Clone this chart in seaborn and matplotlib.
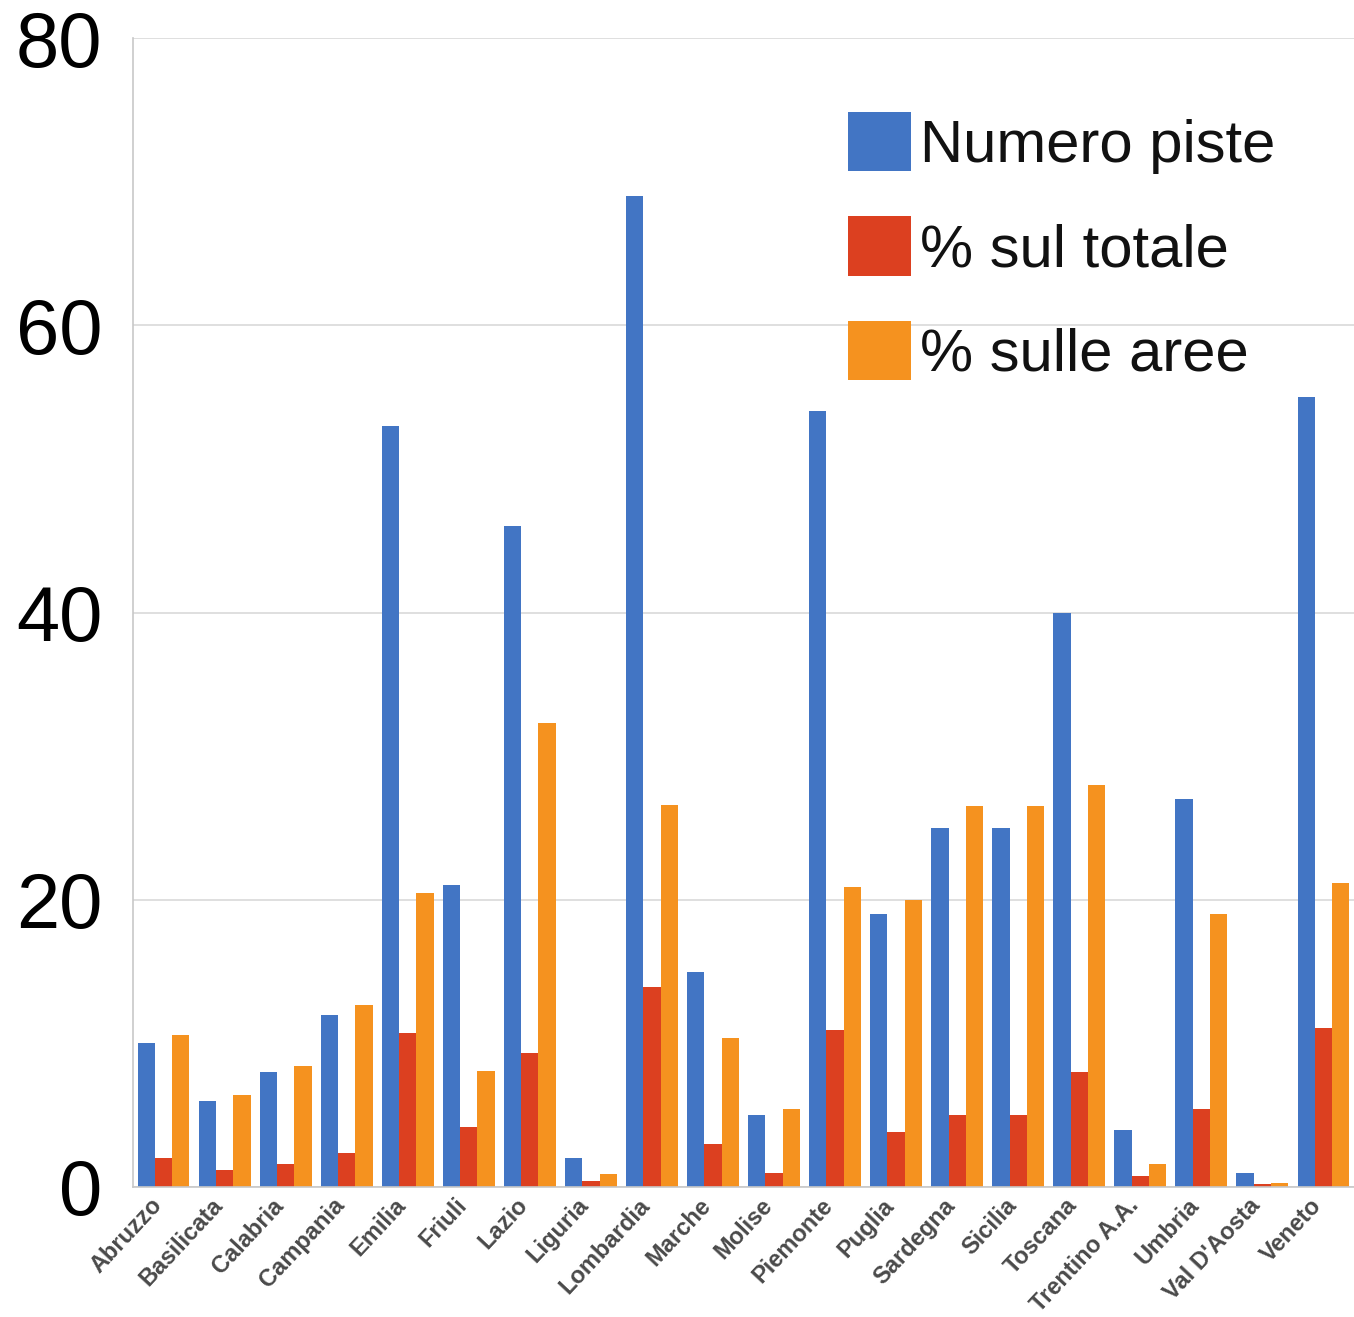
import numpy as np
import pandas as pd
import matplotlib
matplotlib.use("Agg")
import matplotlib.pyplot as plt
import matplotlib.transforms as mtransforms
import seaborn as sns

# Regional data
regioni = ["Abruzzo", "Basilicata", "Calabria", "Campania", "Emilia", "Friuli",
           "Lazio", "Liguria", "Lombardia", "Marche", "Molise", "Piemonte",
           "Puglia", "Sardegna", "Sicilia", "Toscana", "Trentino A.A.",
           "Umbria", "Val D'Aosta", "Veneto"]
numero_piste = [10, 6, 8, 12, 53, 21, 46, 2, 69, 15, 5, 54, 19, 25, 25, 40, 4, 27, 1, 55]
perc_totale = [2.0, 1.2, 1.6, 2.4, 10.7, 4.2, 9.3, 0.4, 13.9, 3.0, 1.0, 10.9,
               3.8, 5.0, 5.0, 8.0, 0.8, 5.4, 0.2, 11.1]
perc_aree = [10.6, 6.4, 8.4, 12.7, 20.5, 8.1, 32.3, 0.9, 26.6, 10.4, 5.4, 20.9,
             20.0, 26.5, 26.5, 28.0, 1.6, 19.0, 0.3, 21.2]
serie = ["Numero piste", "% sul totale", "% sulle aree"]
colori = ["#4275C4", "#DC4020", "#F5921F"]
y_ticks = [0, 20, 40, 60, 80]

df = pd.DataFrame({
    "Regione": regioni * 3,
    "Valore": numero_piste + perc_totale + perc_aree,
    "Serie": np.repeat(serie, len(regioni)),
})

sns.set_theme(style="white")
plt.rcParams["font.family"] = ["Liberation Sans", "DejaVu Sans"]

fig = plt.figure(figsize=(13.54, 13.17), dpi=100)
ax = fig.add_axes([133 / 1354, 1 - 1187 / 1317, 1 - 133 / 1354, (1187 - 38) / 1317])

sns.barplot(data=df, x="Regione", y="Valore", hue="Serie", order=regioni,
            hue_order=serie, palette=colori, width=0.85, gap=0,
            saturation=1, linewidth=0, ax=ax, legend=True)

ax.set_xlim(-0.5, len(regioni) - 0.5)
ax.set_ylim(0, 80)
ax.set_yticks(y_ticks)
ax.set_xlabel("")
ax.set_ylabel("")

# Grid and spines
ax.yaxis.grid(True, color="#d9d9d9", linewidth=1.2)
ax.set_axisbelow(True)
for side in ["top", "right"]:
    ax.spines[side].set_visible(False)
ax.spines["left"].set_color("#c8c8c8")
ax.spines["bottom"].set_color("#c8c8c8")
ax.spines["left"].set_linewidth(1.2)
ax.spines["bottom"].set_linewidth(1.2)

ax.tick_params(axis="y", length=5, color="#c8c8c8", width=1.2, pad=17,
               labelsize=56, labelcolor="black")
ax.tick_params(axis="x", which="major", length=0, pad=5)
ax.set_xticks(np.arange(-0.5, len(regioni), 1), minor=True)
ax.tick_params(axis="x", which="minor", length=6, color="#c8c8c8", width=1.2)

offset = mtransforms.ScaledTranslation(-14 / 100, 0, fig.dpi_scale_trans)
for lab in ax.get_xticklabels():
    lab.set_rotation(47)
    lab.set_ha("right")
    lab.set_va("top")
    lab.set_rotation_mode("anchor")
    lab.set_fontsize(17)
    lab.set_fontweight("bold")
    lab.set_color("#4a4a4a")
    lab.set_transform(lab.get_transform() + offset)

leg = ax.legend(loc="upper left", bbox_to_anchor=(848 / 1354, 1 - 112 / 1317),
                bbox_transform=fig.transFigure, frameon=False, fontsize=43,
                handlelength=1.05, handleheight=1.15, handletextpad=0.16,
                labelspacing=0.71, borderpad=0, borderaxespad=0)
for t in leg.get_texts():
    t.set_color("#111111")

fig.savefig("out.png", dpi=100, facecolor="white")
